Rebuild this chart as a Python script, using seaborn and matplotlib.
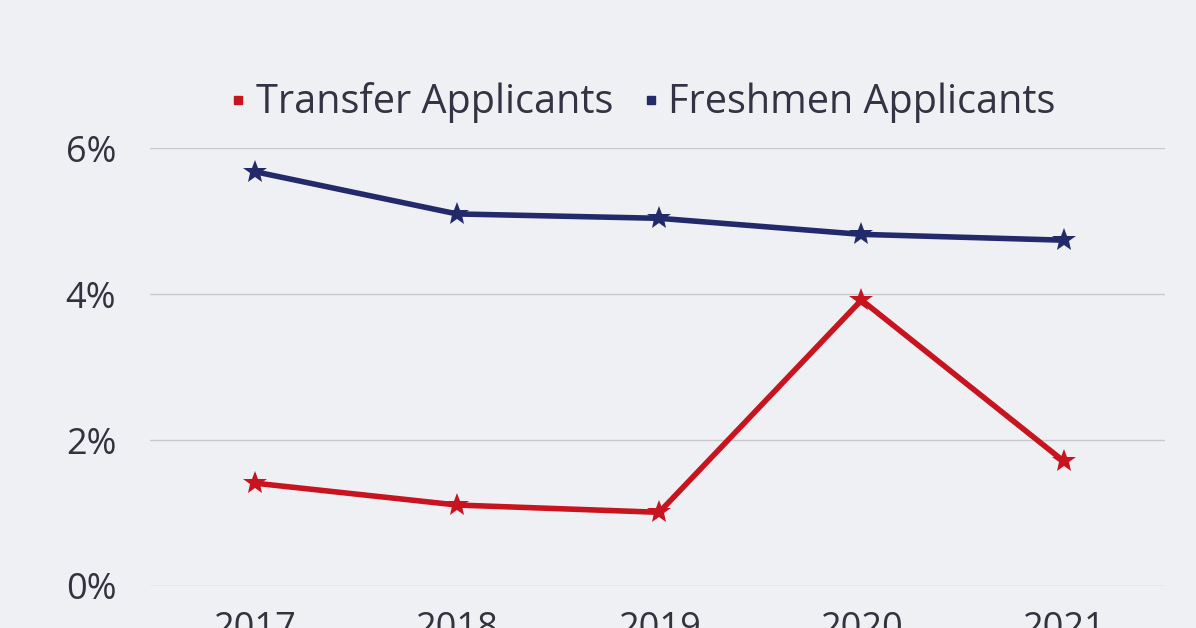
import matplotlib
matplotlib.use("Agg")
import matplotlib.pyplot as plt
import seaborn as sns
import pandas as pd
from matplotlib.lines import Line2D

years = [2017, 2018, 2019, 2020, 2021]
transfer = [1.41, 1.11, 1.01, 3.92, 1.71]
freshmen = [5.68, 5.10, 5.04, 4.82, 4.74]
series_names = ["Transfer Applicants", "Freshmen Applicants"]
colors = ["#c8141e", "#232a6b"]

df = pd.DataFrame({"year": years * 2, "rate": transfer + freshmen,
                   "series": [series_names[0]] * 5 + [series_names[1]] * 5})

sns.set_theme(style="white")
plt.rcParams['font.family'] = ['Open Sans', 'DejaVu Sans']
fig = plt.figure(figsize=(11.96, 6.28), dpi=100)
fig.patch.set_facecolor("#eef0f4")
ax = fig.add_axes([0.125, 0.0669, 0.849, 0.697])
ax.set_facecolor("none")
sns.lineplot(data=df, x="year", y="rate", hue="series", palette=colors, marker="*",
             markersize=18, linewidth=4, markeredgewidth=0, ax=ax, legend=False)
ax.set_xlim(2016.48, 2021.5)
ax.set_ylim(0, 6)
ax.set_yticks([0, 2, 4, 6])
ax.set_yticklabels(["0%", "2%", "4%", "6%"], fontsize=26, color="#333340")
ax.set_xticks(years)
ax.set_xticklabels([str(y) for y in years], fontsize=26, color="#333340")
ax.tick_params(axis="x", pad=18, length=0)
ax.tick_params(axis="y", pad=24, length=0)
ax.grid(axis="y", color="#c8c8cc", linewidth=1)
for s in ax.spines.values():
    s.set_visible(False)
ax.set_xlabel("")
ax.set_ylabel("")
handles = [Line2D([], [], marker="s", linestyle="", color=c, markersize=6) for c in colors]
fig.legend(handles, series_names, loc="center", bbox_to_anchor=(0.535, 0.836), ncol=2,
           frameon=False, fontsize=28.5, handletextpad=0.1, columnspacing=0.6,
           handlelength=0.7, labelcolor="#333344")
fig.savefig("out.png", dpi=100, facecolor=fig.get_facecolor())
